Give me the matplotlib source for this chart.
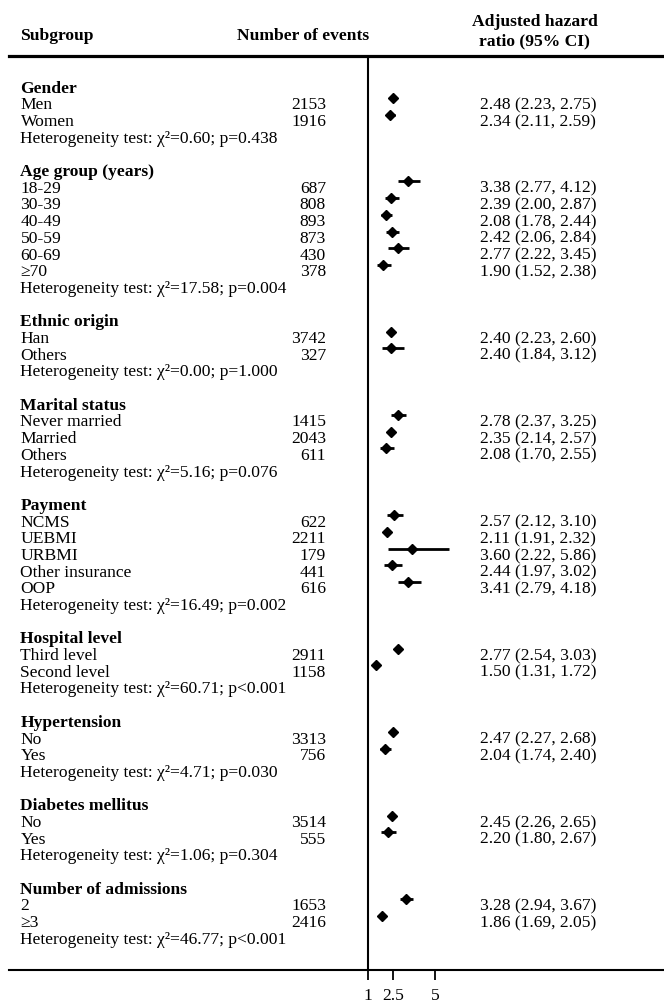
import matplotlib
matplotlib.use("Agg")
import matplotlib.pyplot as plt
import matplotlib.transforms as mtransforms

plt.rcParams['font.family'] = ['Liberation Serif', 'DejaVu Serif']
plt.rcParams['font.size'] = 12.6

W, H = 664, 1004

groups = ["Gender", "Age group (years)", "Ethnic origin", "Marital status", "Payment",
          "Hospital level", "Hypertension", "Diabetes mellitus", "Number of admissions"]

labels = [["Men", "Women"],
          ["18-29", "30-39", "40-49", "50-59", "60-69", "≥70"],
          ["Han", "Others"],
          ["Never married", "Married", "Others"],
          ["NCMS", "UEBMI", "URBMI", "Other insurance", "OOP"],
          ["Third level", "Second level"],
          ["No", "Yes"],
          ["No", "Yes"],
          ["2", "≥3"]]

events = [[2153, 1916],
          [687, 808, 893, 873, 430, 378],
          [3742, 327],
          [1415, 2043, 611],
          [622, 2211, 179, 441, 616],
          [2911, 1158],
          [3313, 756],
          [3514, 555],
          [1653, 2416]]

hr = [[2.48, 2.34],
      [3.38, 2.39, 2.08, 2.42, 2.77, 1.90],
      [2.40, 2.40],
      [2.78, 2.35, 2.08],
      [2.57, 2.11, 3.60, 2.44, 3.41],
      [2.77, 1.50],
      [2.47, 2.04],
      [2.45, 2.20],
      [3.28, 1.86]]

ci_low = [[2.23, 2.11],
          [2.77, 2.00, 1.78, 2.06, 2.22, 1.52],
          [2.23, 1.84],
          [2.37, 2.14, 1.70],
          [2.12, 1.91, 2.22, 1.97, 2.79],
          [2.54, 1.31],
          [2.27, 1.74],
          [2.26, 1.80],
          [2.94, 1.69]]

ci_high = [[2.75, 2.59],
           [4.12, 2.87, 2.44, 2.84, 3.45, 2.38],
           [2.60, 3.12],
           [3.25, 2.57, 2.55],
           [3.10, 2.32, 5.86, 3.02, 4.18],
           [3.03, 1.72],
           [2.68, 2.40],
           [2.65, 2.67],
           [3.67, 2.05]]

chi2 = ["0.60", "17.58", "0.00", "5.16", "16.49", "60.71", "4.71", "1.06", "46.77"]
pval = ["p=0.438", "p=0.004", "p=1.000", "p=0.076", "p=0.002", "p<0.001",
        "p=0.030", "p=0.304", "p<0.001"]

fig = plt.figure(figsize=(W / 100, H / 100), dpi=100)

# axes box in pixels: left 9, right edge, top line 57, bottom line 971
left, right, top, bottom = 9.3, 664, 57.3, 971
ax = fig.add_axes([left / W, 1 - bottom / H, (right - left) / W, (bottom - top) / H])

# linear HR scale: 1 -> x=368 px, 16.75 px per unit
x0, scale = 368, 16.75
ax.set_xlim(1 - (x0 - left) / scale, 1 + (right - x0) / scale)
row0, step = 87.3, 16.69
ax.set_ylim((bottom - row0) / step, (top - row0) / step)

for s in ["left", "right"]:
    ax.spines[s].set_visible(False)
ax.spines["top"].set_linewidth(2.3)
ax.spines["bottom"].set_linewidth(1.5)
ax.axvline(1, color="black", lw=1.5)

ax.set_yticks([])
ax.set_xticks([1, 2.5, 5])
ax.set_xticklabels(["1", "2.5", "5"])
ax.tick_params(axis="x", direction="out", length=7.5, width=1.3, pad=5)

tr = mtransforms.blended_transform_factory(fig.transFigure, ax.transData)

row = 0
for g in range(len(groups)):
    ax.text(20.5 / W, row + 0.08, groups[g], transform=tr, fontweight="bold", va="center")
    for i in range(len(labels[g])):
        row += 1
        y = row + 0.08
        ax.text(20.5 / W, y, labels[g][i], transform=tr, va="center")
        ax.text(326 / W, y, str(events[g][i]), transform=tr, va="center", ha="right")
        ax.text(480 / W, y,
                f"{hr[g][i]:.2f} ({ci_low[g][i]:.2f}, {ci_high[g][i]:.2f})",
                transform=tr, va="center")
        ax.plot([ci_low[g][i], ci_high[g][i]], [row - 0.3, row - 0.3],
                color="black", lw=2.0, solid_capstyle="butt")
        ax.plot(hr[g][i], row - 0.3, marker="D", color="black", markersize=5)
    row += 1
    ax.text(20.5 / W, row + 0.08, f"Heterogeneity test: χ²={chi2[g]}; {pval[g]}",
            transform=tr, va="center")
    row += 2

fig.text(20.5 / W, 1 - 35.5 / H, "Subgroup", fontweight="bold", va="center")
fig.text(303 / W, 1 - 35.5 / H, "Number of events", fontweight="bold", va="center", ha="center")
fig.text(534.5 / W, 1 - 32 / H, "Adjusted hazard\nratio (95% CI)", fontweight="bold",
         va="center", ha="center", linespacing=1.3)

fig.savefig("out.png", dpi=100)
